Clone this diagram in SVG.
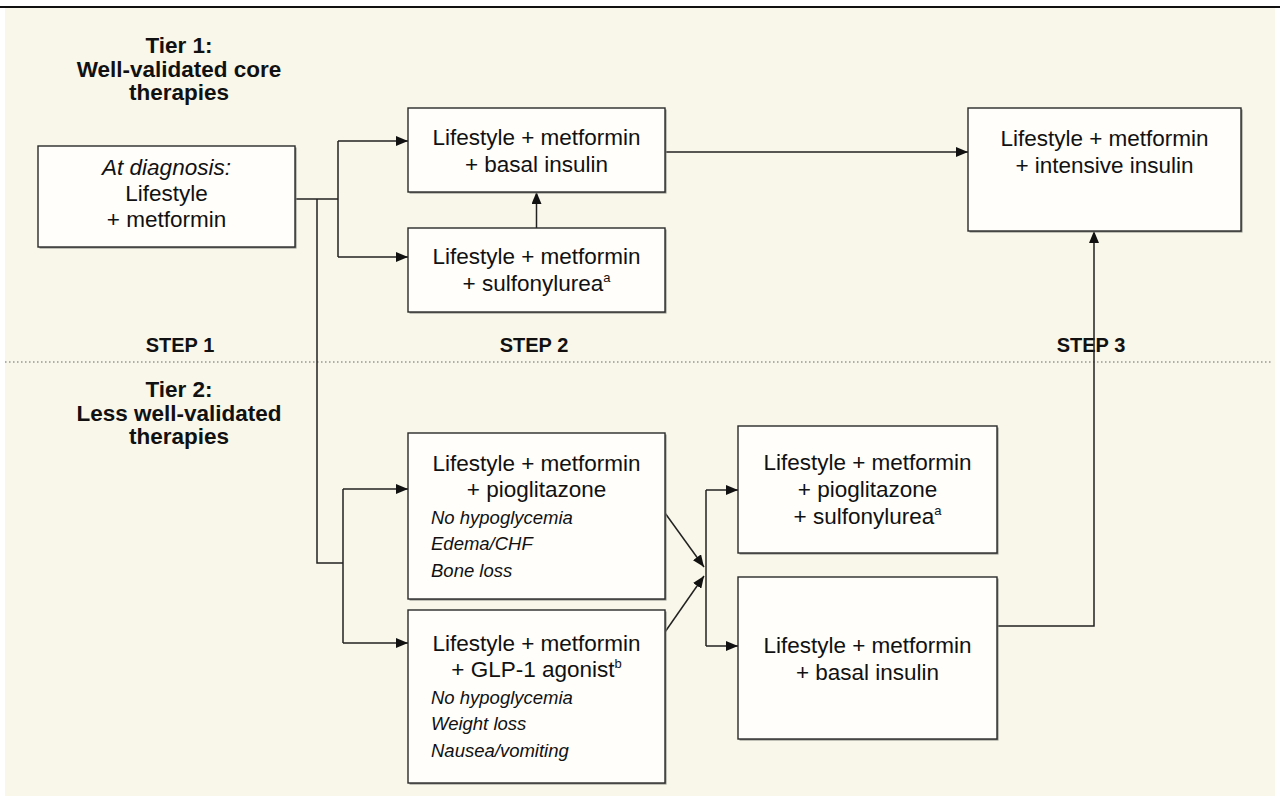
<svg xmlns="http://www.w3.org/2000/svg" width="1280" height="796" viewBox="0 0 1280 796">
<defs>
<style>
.bg{fill:#f9f7ea}
.box{fill:#fffefa;stroke:#2a2a2a;stroke-width:1.4}
.sh{fill:#8a8a84}
.t{font-family:"Liberation Sans",Arial,Helvetica,sans-serif;font-size:22.5px;fill:#111;text-anchor:middle}
.ti{font-style:italic}
.s{font-family:"Liberation Sans",Arial,Helvetica,sans-serif;font-size:18.5px;font-style:italic;fill:#111}
.h{font-family:"Liberation Sans",Arial,Helvetica,sans-serif;font-size:22.5px;font-weight:bold;fill:#111;text-anchor:middle}
.st{font-family:"Liberation Sans",Arial,Helvetica,sans-serif;font-size:20px;font-weight:bold;fill:#111;text-anchor:middle}
.c{fill:none;stroke:#222;stroke-width:1.5}
.a{marker-end:url(#arr)}
</style>
<marker id="arr" viewBox="0 0 12 10" refX="12" refY="5" markerWidth="12" markerHeight="10" markerUnits="userSpaceOnUse" orient="auto">
<path d="M0,0 L12,5 L0,10 z" fill="#111"/>
</marker>
</defs>
<rect x="0" y="0" width="1280" height="796" fill="#ffffff"/>
<rect class="bg" x="5" y="8" width="1270" height="788"/>
<line x1="0" y1="7" x2="1280" y2="7" stroke="#111" stroke-width="2"/>
<line x1="5" y1="362" x2="1272" y2="362" stroke="#666" stroke-width="1.2" stroke-dasharray="1.5 2.5"/>

<g id="labels">
<text class="h" x="179" y="53">Tier 1:</text>
<text class="h" x="179" y="76.5">Well-validated core</text>
<text class="h" x="179" y="100">therapies</text>
<text class="h" x="179" y="397">Tier 2:</text>
<text class="h" x="179" y="420.5">Less well-validated</text>
<text class="h" x="179" y="444">therapies</text>
<text class="st" x="180" y="352">STEP 1</text>
<text class="st" x="534" y="352">STEP 2</text>
<text class="st" x="1091" y="352">STEP 3</text>
</g>

<g id="connectors">
<path class="c" d="M295,199 H338"/>
<path class="c" d="M338,141 V257"/>
<path class="c a" d="M338,141 H408"/>
<path class="c a" d="M338,257 H408"/>
<path class="c" d="M317,199 V563 H343"/>
<path class="c" d="M343,489 V643"/>
<path class="c a" d="M343,489 H408"/>
<path class="c a" d="M343,643 H408"/>
<path class="c a" d="M536.5,228 V192"/>
<path class="c a" d="M665,152 H968"/>
<path class="c a" d="M665,513 L704,567"/>
<path class="c a" d="M665,632 L704,576"/>
<path class="c" d="M706,490 V646"/>
<path class="c a" d="M706,490 H738"/>
<path class="c a" d="M706,646 H738"/>
<path class="c a" d="M997,626 H1094 V231"/>
</g>

<g id="n-diagnosis">
<rect class="sh" x="39.5" y="147.5" width="257" height="101"/>
<rect class="box" x="38" y="146" width="257" height="101"/>
<text class="t ti" x="166.5" y="175">At diagnosis:</text>
<text class="t" x="166.5" y="201">Lifestyle</text>
<text class="t" x="166.5" y="227">+ metformin</text>
</g>

<g id="n-basal1">
<rect class="sh" x="409.5" y="109.5" width="257" height="84"/>
<rect class="box" x="408" y="108" width="257" height="84"/>
<text class="t" x="536.5" y="145">Lifestyle + metformin</text>
<text class="t" x="536.5" y="171.5">+ basal insulin</text>
</g>

<g id="n-sulf1">
<rect class="sh" x="409.5" y="229.5" width="257" height="84"/>
<rect class="box" x="408" y="228" width="257" height="84"/>
<text class="t" x="536.5" y="264">Lifestyle + metformin</text>
<text class="t" x="536.5" y="291">+ sulfonylurea<tspan font-size="13" dy="-9">a</tspan></text>
</g>

<g id="n-intensive">
<rect class="sh" x="969.5" y="109.5" width="273" height="123"/>
<rect class="box" x="968" y="108" width="273" height="123"/>
<text class="t" x="1104.5" y="146">Lifestyle + metformin</text>
<text class="t" x="1104.5" y="172.5">+ intensive insulin</text>
</g>

<g id="n-pio">
<rect class="sh" x="409.5" y="434.5" width="257" height="166"/>
<rect class="box" x="408" y="433" width="257" height="166"/>
<text class="t" x="536.5" y="471">Lifestyle + metformin</text>
<text class="t" x="536.5" y="497">+ pioglitazone</text>
<text class="s" x="431" y="524">No hypoglycemia</text>
<text class="s" x="431" y="550">Edema/CHF</text>
<text class="s" x="431" y="577">Bone loss</text>
</g>

<g id="n-glp">
<rect class="sh" x="409.5" y="611.5" width="257" height="173"/>
<rect class="box" x="408" y="610" width="257" height="173"/>
<text class="t" x="536.5" y="651">Lifestyle + metformin</text>
<text class="t" x="536.5" y="677">+ GLP-1 agonist<tspan font-size="13" dy="-9">b</tspan></text>
<text class="s" x="431" y="704">No hypoglycemia</text>
<text class="s" x="431" y="730">Weight loss</text>
<text class="s" x="431" y="757">Nausea/vomiting</text>
</g>

<g id="n-pio-sulf">
<rect class="sh" x="739.5" y="427.5" width="259" height="127"/>
<rect class="box" x="738" y="426" width="259" height="127"/>
<text class="t" x="867.5" y="470">Lifestyle + metformin</text>
<text class="t" x="867.5" y="497">+ pioglitazone</text>
<text class="t" x="867.5" y="524">+ sulfonylurea<tspan font-size="13" dy="-9">a</tspan></text>
</g>

<g id="n-basal2">
<rect class="sh" x="739.5" y="578.5" width="259" height="162"/>
<rect class="box" x="738" y="577" width="259" height="162"/>
<text class="t" x="867.5" y="653">Lifestyle + metformin</text>
<text class="t" x="867.5" y="680">+ basal insulin</text>
</g>
</svg>
